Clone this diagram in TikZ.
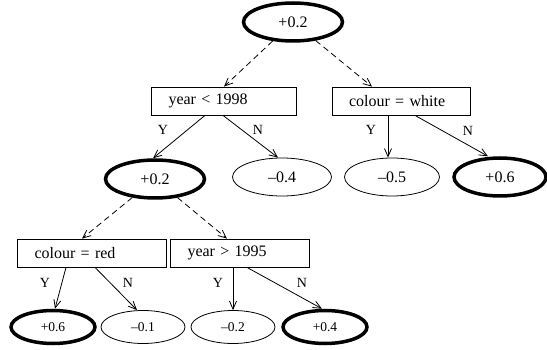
\documentclass[tikz,border=0pt]{standalone}
\usepackage{fontspec}
\setmainfont{Liberation Serif}
\usetikzlibrary{shapes.geometric,arrows.meta}
\begin{document}
\begin{tikzpicture}[x=1pt,y=-1pt,line width=0.8pt,
	leaf/.style = {ellipse,draw,minimum width=99,minimum height=38,inner sep=0pt,font=\fontsize{16}{18}\selectfont},
	small/.style = {leaf,minimum width=84,minimum height=33,font=\fontsize{13.5}{15}\selectfont},
	best/.style = {line width=3.5pt},
	test/.style = {rectangle,draw,minimum height=28,inner xsep=17pt,text width=#1,align=left,font=\fontsize{16}{18}\selectfont},
	yn/.style = {font=\fontsize{14}{16}\selectfont},
	add/.style = {dash pattern=on 6pt off 4pt},
	>={Straight Barb[length=8pt,width=7pt]}]
	\useasboundingbox (0,0) rectangle (547,350);
	% top of the tree
	\node [leaf,best] (root) at (293,22) {+0.2};
	\node [test=111] (yr98) at (224,101) {year < 1998};
	\node [test=104] (cw) at (401,101) {colour = white};
	\node [leaf,best] (p2) at (155,179) {+0.2};
	\node [leaf] (m4) at (282,177) {--0.4};
	\node [leaf,minimum width=95] (m5) at (392,177) {--0.5};
	\node [leaf,best,minimum width=92] (p6) at (500,177) {+0.6};
	% lower part
	\node [test=115] (cr) at (92,253) {colour = red};
	\node [test=105] (yg) at (240,253) {year > 1995};
	\node [small,best] (p6b) at (53,327) {+0.6};
	\node [small] (m1) at (143,327) {--0.1};
	\node [small] (m2) at (233,327) {--0.2};
	\node [small,best] (p4) at (325,327) {+0.4};
	% dashed: additive parts
	\draw [->,add] (root) -- (yr98.north);
	\draw [->,add] (root) -- ([xshift=-29]cw.north);
	\draw [->,add] (p2) -- ([xshift=-10]cr.north);
	\draw [->,add] (p2) -- ([xshift=-13]yg.north);
	% yes / no branches
	\draw [->] ([xshift=-19]yr98.south) -- ([xshift=-2]p2.north);
	\draw [->] ([xshift=-1]yr98.south) -- ([xshift=-4]m4.north);
	\draw [->] ([xshift=-13]cw.south) -- ([xshift=-4]m5.north);
	\draw [->] ([xshift=14]cw.south) -- ([xshift=-12]p6.north);
	\draw [->] ([xshift=-26]cr.south) -- ([xshift=2]p6b.north);
	\draw [->] ([xshift=3]cr.south) -- ([xshift=-6]m1.north);
	\draw [->] ([xshift=-7]yg.south) -- (m2.north);
	\draw [->] ([xshift=7]yg.south) -- ([xshift=-3]p4.north);
	\node [yn] (y1) at (163,130) {Y};
	\node [yn] (n1) at (258,130) {N};
	\node [yn] (y2) at (371,130) {Y};
	\node [yn] (n2) at (468,131) {N};
	\node [yn] (y3) at (45,283) {Y};
	\node [yn] (n3) at (128,283) {N};
	\node [yn] (y4) at (218,283) {Y};
	\node [yn] (n4) at (302,283) {N};
\end{tikzpicture}
\end{document}
